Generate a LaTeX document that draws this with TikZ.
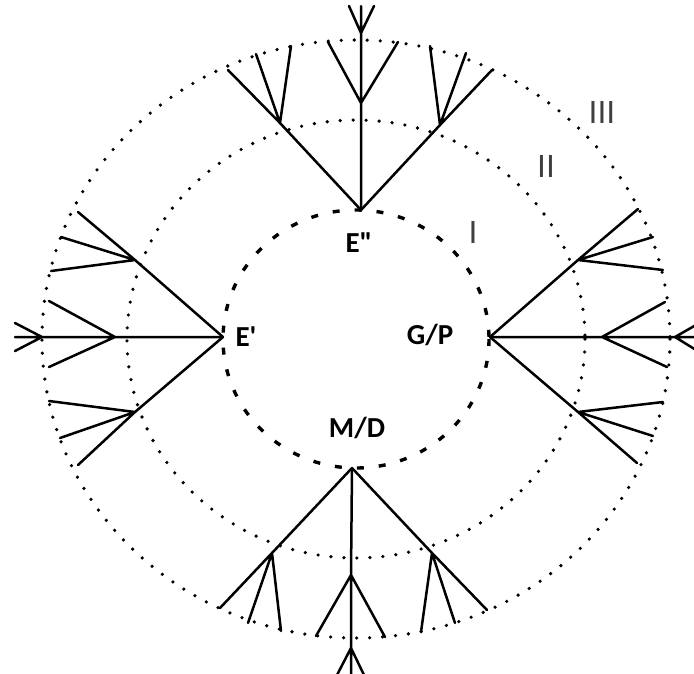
\documentclass[tikz,border=0pt]{standalone}
\usepackage{fontspec}
\newfontfamily\labfont{Carlito}[Ligatures=TeXOff]
\newfontfamily\zonefont{Liberation Sans}
\begin{document}
\begin{tikzpicture}[x=1pt,y=-1pt,
  branch/.style={line width=2.5pt,line cap=round,line join=round},
  ringdot/.style={line width=3.6pt,line cap=round,dash pattern=on 0pt off 13pt},
  ringdash/.style={line width=3.4pt,dash pattern=on 7pt off 15pt},
  site/.style={font=\labfont\bfseries\fontsize{29}{29}\selectfont,inner sep=0pt},
  zone/.style={font=\zonefont\fontsize{32}{32}\selectfont,text=black!75,inner sep=0pt}]
\useasboundingbox (0,0) rectangle (694,673);
% three concentric zones
\draw[ringdash] (356,339) ellipse [x radius=133, y radius=129];
\draw[ringdot]  (356,339) ellipse [x radius=229, y radius=219];
\draw[ringdot]  (356,339) ellipse [x radius=314, y radius=299];

% ---------- top tree (E'') ----------
\coordinate (T0) at (361,210);
\coordinate (TL1) at (280,123); \coordinate (TL2) at (228,70);
\coordinate (TLa) at (256,54);  \coordinate (TLb) at (291,46);
\coordinate (TM1) at (361,103); \coordinate (TM2) at (361,33); \coordinate (TMe) at (361,6);
\coordinate (TMa) at (328,42);  \coordinate (TMb) at (398,42);
\coordinate (TMc) at (349,6);   \coordinate (TMd) at (374,6);
\coordinate (TR1) at (440,125); \coordinate (TR2) at (492,70);
\coordinate (TRa) at (430,46);  \coordinate (TRb) at (466,53);
\draw[branch] (T0) -- (TL1) -- (TL2) (TL1) -- (TLa) (TL1) -- (TLb);
\draw[branch] (T0) -- (TM1) -- (TM2) -- (TMe) (TM1) -- (TMa) (TM1) -- (TMb)
              (TM2) -- (TMc) (TM2) -- (TMd);
\draw[branch] (T0) -- (TR1) -- (TR2) (TR1) -- (TRa) (TR1) -- (TRb);

% ---------- left tree (E') ----------
\coordinate (L0) at (223,337);
\coordinate (LU1) at (135,260); \coordinate (LU2) at (78,212);
\coordinate (LUa) at (61,237);  \coordinate (LUb) at (51,271);
\coordinate (LM1) at (115,337); \coordinate (LM2) at (42,337); \coordinate (LMe) at (15,337);
\coordinate (LMa) at (49,301);  \coordinate (LMb) at (49,367);
\coordinate (LMc) at (15,323);  \coordinate (LMd) at (15,351);
\coordinate (LD1) at (135,412); \coordinate (LD2) at (78,465);
\coordinate (LDa) at (49,401);  \coordinate (LDb) at (60,438);
\draw[branch] (L0) -- (LU1) -- (LU2) (LU1) -- (LUa) (LU1) -- (LUb);
\draw[branch] (L0) -- (LM1) -- (LM2) -- (LMe) (LM1) -- (LMa) (LM1) -- (LMb)
              (LM2) -- (LMc) (LM2) -- (LMd);
\draw[branch] (L0) -- (LD1) -- (LD2) (LD1) -- (LDa) (LD1) -- (LDb);

% ---------- right tree (G/P) ----------
\coordinate (R0) at (490,337);
\coordinate (RU1) at (578,260); \coordinate (RU2) at (638,209);
\coordinate (RUa) at (653,237); \coordinate (RUb) at (663,270);
\coordinate (RM1) at (602,337); \coordinate (RM2) at (675,337); \coordinate (RMe) at (696,337);
\coordinate (RMa) at (665,302); \coordinate (RMb) at (667,367);
\coordinate (RMc) at (696,325); \coordinate (RMd) at (696,350);
\coordinate (RD1) at (578,412); \coordinate (RD2) at (637,463);
\coordinate (RDa) at (663,402); \coordinate (RDb) at (653,436);
\draw[branch] (R0) -- (RU1) -- (RU2) (RU1) -- (RUa) (RU1) -- (RUb);
\draw[branch] (R0) -- (RM1) -- (RM2) -- (RMe) (RM1) -- (RMa) (RM1) -- (RMb)
              (RM2) -- (RMc) (RM2) -- (RMd);
\draw[branch] (R0) -- (RD1) -- (RD2) (RD1) -- (RDa) (RD1) -- (RDb);

% ---------- bottom tree (M/D) ----------
\coordinate (B0) at (352,468);
\coordinate (BL1) at (272,553); \coordinate (BL2) at (220,608);
\coordinate (BLa) at (248,623); \coordinate (BLb) at (281,631);
\coordinate (BM1) at (351,575); \coordinate (BM2) at (351,648); \coordinate (BMe) at (351,675);
\coordinate (BMa) at (316,636); \coordinate (BMb) at (385,637);
\coordinate (BMc) at (337,675); \coordinate (BMd) at (364,675);
\coordinate (BR1) at (432,553); \coordinate (BR2) at (487,610);
\coordinate (BRa) at (421,632); \coordinate (BRb) at (455,623);
\draw[branch] (B0) -- (BL1) -- (BL2) (BL1) -- (BLa) (BL1) -- (BLb);
\draw[branch] (B0) -- (BM1) -- (BM2) -- (BMe) (BM1) -- (BMa) (BM1) -- (BMb)
              (BM2) -- (BMc) (BM2) -- (BMd);
\draw[branch] (B0) -- (BR1) -- (BR2) (BR1) -- (BRa) (BR1) -- (BRb);

% ---------- labels ----------
\node[site] (lE2) at (359,243) {E"};
\node[site] (lE1) at (246,337) {E'};
\node[site] (lGP) at (430,335) {G/P};
\node[site] (lMD) at (357,428) {M/D};
\node[zone] (zI)   at (473,232) {I};
\node[zone] (zII)  at (546,166) {II};
\node[zone] (zIII) at (602,112) {III};
\end{tikzpicture}
\end{document}
